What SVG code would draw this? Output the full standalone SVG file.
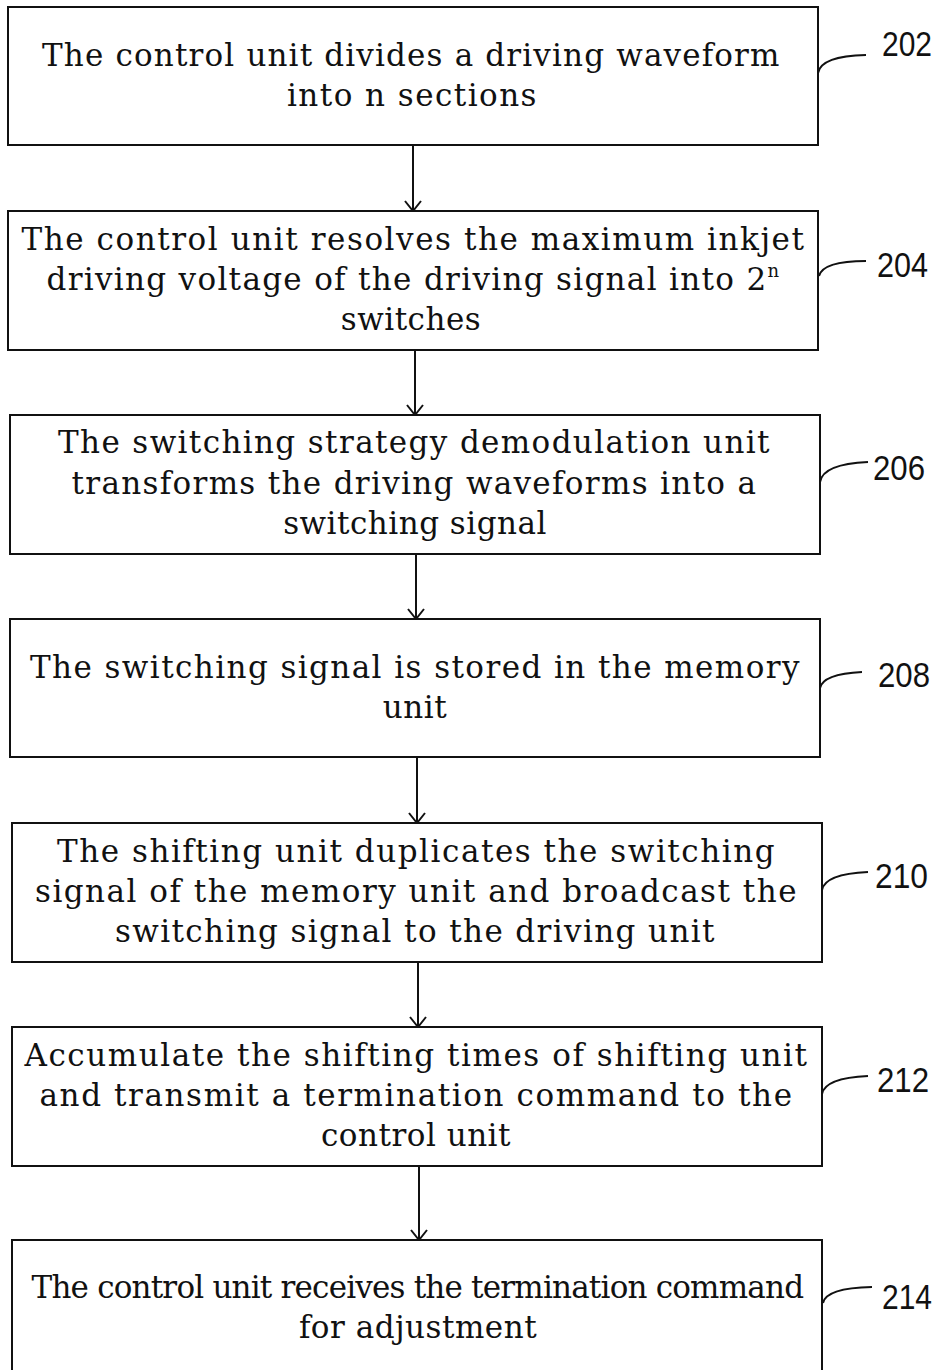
<svg xmlns="http://www.w3.org/2000/svg" width="941" height="1370" viewBox="0 0 941 1370">
<style>
.box{fill:#fff;stroke:#111;stroke-width:2}
.t{font-family:"DejaVu Serif","Liberation Serif",serif;font-size:31px;fill:#111;text-anchor:middle;letter-spacing:0.5px}
.lab{font-family:"Liberation Sans Narrow","Liberation Sans",sans-serif;font-size:35px;fill:#111}
.lead{fill:none;stroke:#111;stroke-width:2}
.conn{stroke:#111;stroke-width:2;fill:none}
</style>
<defs>
<marker id="arr" viewBox="0 0 20 20" refX="19" refY="10" markerWidth="20" markerHeight="20" markerUnits="userSpaceOnUse" orient="auto">
<path d="M9,2 L19,10 L9,18" fill="none" stroke="#111" stroke-width="2"/>
</marker>
</defs>
<rect width="941" height="1370" fill="#fff"/>
<g id="connectors">
<line class="conn" x1="413" y1="145" x2="413" y2="211" marker-end="url(#arr)"/>
<line class="conn" x1="415" y1="350" x2="415" y2="415" marker-end="url(#arr)"/>
<line class="conn" x1="416" y1="554" x2="416" y2="619" marker-end="url(#arr)"/>
<line class="conn" x1="417" y1="757" x2="417" y2="823" marker-end="url(#arr)"/>
<line class="conn" x1="418" y1="962" x2="418" y2="1027" marker-end="url(#arr)"/>
<line class="conn" x1="419" y1="1166" x2="419" y2="1240" marker-end="url(#arr)"/>
</g>
<g id="n202">
<rect class="box" x="8" y="7" width="810" height="138"/>
<text class="t" x="411" y="66" textLength="738" lengthAdjust="spacing">The control unit divides a driving waveform</text>
<text class="t" x="412" y="106" textLength="250" lengthAdjust="spacing">into n sections</text>
<path class="lead" d="M818,73 Q821,56 866,55"/>
<text class="lab" x="882" y="56" textLength="50" lengthAdjust="spacingAndGlyphs">202</text>
</g>
<g id="n204">
<rect class="box" x="8" y="211" width="810" height="139"/>
<text class="t" x="413" y="250" textLength="783" lengthAdjust="spacing">The control unit resolves the maximum inkjet</text>
<text class="t" x="413" y="290" textLength="733" lengthAdjust="spacing">driving voltage of the driving signal into 2<tspan font-size="18" dy="-13">n</tspan></text>
<text class="t" x="411" y="330">switches</text>
<path class="lead" d="M819,276 Q823,261 866,261"/>
<text class="lab" x="877" y="277" textLength="51" lengthAdjust="spacingAndGlyphs">204</text>
</g>
<g id="n206">
<rect class="box" x="10" y="415" width="810" height="139"/>
<text class="t" x="414" y="453" textLength="712" lengthAdjust="spacing">The switching strategy demodulation unit</text>
<text class="t" x="414" y="494" textLength="685" lengthAdjust="spacing">transforms the driving waveforms into a</text>
<text class="t" x="415" y="534">switching signal</text>
<path class="lead" d="M820,482 Q823,464 868,462"/>
<text class="lab" x="873" y="480" textLength="52" lengthAdjust="spacingAndGlyphs">206</text>
</g>
<g id="n208">
<rect class="box" x="10" y="619" width="810" height="138"/>
<text class="t" x="415" y="678" textLength="770" lengthAdjust="spacing">The switching signal is stored in the memory</text>
<text class="t" x="415" y="718">unit</text>
<path class="lead" d="M820,688 Q823,674 862,672"/>
<text class="lab" x="878" y="687" textLength="52" lengthAdjust="spacingAndGlyphs">208</text>
</g>
<g id="n210">
<rect class="box" x="12" y="823" width="810" height="139"/>
<text class="t" x="416" y="862" textLength="718" lengthAdjust="spacing">The shifting unit duplicates the switching</text>
<text class="t" x="416" y="902" textLength="762" lengthAdjust="spacing">signal of the memory unit and broadcast the</text>
<text class="t" x="415" y="942" textLength="600" lengthAdjust="spacing">switching signal to the driving unit</text>
<path class="lead" d="M822,890 Q825,874 868,872"/>
<text class="lab" x="875" y="888" textLength="53" lengthAdjust="spacingAndGlyphs">210</text>
</g>
<g id="n212">
<rect class="box" x="12" y="1027" width="810" height="139"/>
<text class="t" x="416" y="1066" textLength="783" lengthAdjust="spacing">Accumulate the shifting times of shifting unit</text>
<text class="t" x="416" y="1106" textLength="753" lengthAdjust="spacing">and transmit a termination command to the</text>
<text class="t" x="416" y="1146">control unit</text>
<path class="lead" d="M822,1094 Q825,1078 868,1076"/>
<text class="lab" x="877" y="1092" textLength="52" lengthAdjust="spacingAndGlyphs">212</text>
</g>
<g id="n214">
<rect class="box" x="12" y="1240" width="810" height="140"/>
<text class="t" x="418" y="1298" textLength="773" lengthAdjust="spacing">The control unit receives the termination command</text>
<text class="t" x="418" y="1338">for adjustment</text>
<path class="lead" d="M823,1303 Q826,1288 872,1287"/>
<text class="lab" x="882" y="1309" textLength="50" lengthAdjust="spacingAndGlyphs">214</text>
</g>
</svg>
